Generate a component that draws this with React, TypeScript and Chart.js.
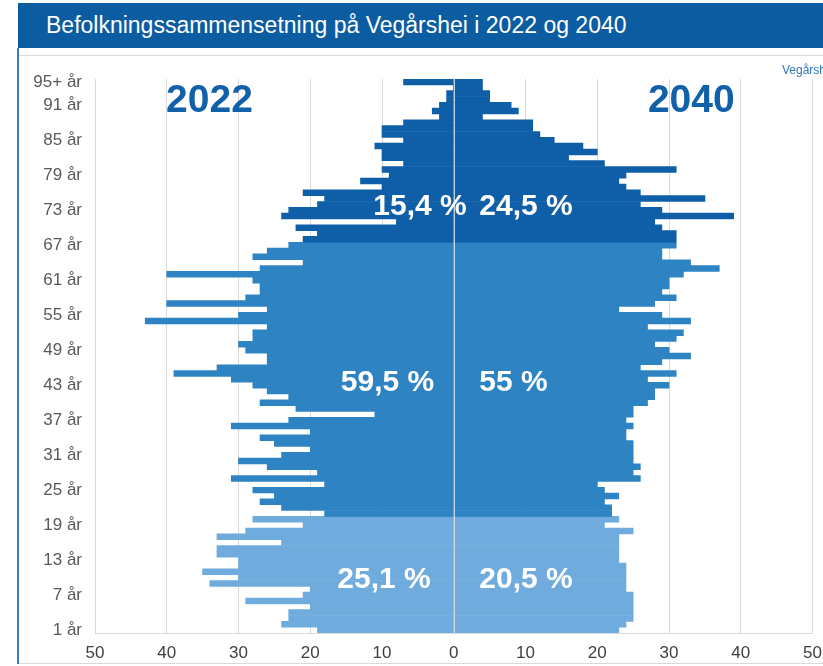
import React, { useEffect, useRef } from "react";
import { Chart, registerables } from "chart.js";

Chart.register(...registerables);

const FONT = "'Liberation Sans', Arial, Helvetica, sans-serif";

// Categories: ages 1 år .. 94 år, 95+ år (bottom to top)
const ageLabels: string[] = [
  ...Array.from({ length: 94 }, (_, i) => `${i + 1} år`),
  "95+ år",
];

// 2022 population per age (age 1 -> 95+)
const pop2022: number[] = [
  19, 24, 23, 23, 20, 29, 21, 20, 34, 30,
  35, 30, 30, 33, 33, 24, 33, 29, 21, 28,
  18, 24, 27, 25, 28, 18, 31, 19, 26, 30,
  24, 20, 25, 27, 20, 31, 23, 11, 22, 27,
  23, 26, 28, 31, 39, 33, 26, 26, 29, 30,
  28, 28, 26, 43, 30, 26, 40, 29, 27, 27,
  28, 40, 27, 21, 28, 26, 23, 21, 19, 22,
  8, 24, 23, 19, 18, 21, 10, 13, 9, 10,
  7, 10, 10, 11, 7, 10, 10, 7, 2, 3,
  2, 1, 1, 0, 7,
];

// 2040 population per age (age 1 -> 95+)
const pop2040: number[] = [
  23, 24, 25, 25, 25, 25, 25, 24, 24, 24,
  24, 24, 23, 23, 23, 23, 23, 25, 21, 23,
  22, 22, 21, 23, 21, 20, 26, 25, 26, 25,
  25, 25, 25, 24, 24, 25, 24, 25, 25, 27,
  28, 28, 30, 27, 31, 26, 29, 33, 30, 28,
  31, 32, 27, 33, 29, 23, 28, 31, 29, 30,
  30, 32, 37, 33, 29, 29, 31, 31, 31, 29,
  28, 39, 29, 26, 35, 26, 24, 23, 24, 31,
  21, 16, 20, 18, 14, 12, 11, 11, 4, 9,
  8, 5, 5, 4, 4,
];

// Age-group boundaries (index in ageLabels) and their colours
const youngUntil = 20; // first 20 rows
const adultUntil = 67; // rows 20..66
const groupColors = { young: "#6FACDD", adult: "#2E83C2", old: "#0F5EA8" };

const xTicks = [-50, -40, -30, -20, -10, 0, 10, 20, 30, 40, 50];

const shareLabels = [
  { text: "15,4 %", x: 420, y: 205 },
  { text: "24,5 %", x: 526, y: 205 },
  { text: "59,5 %", x: 387.5, y: 381 },
  { text: "55 %", x: 513.5, y: 381 },
  { text: "25,1 %", x: 384, y: 578 },
  { text: "20,5 %", x: 526, y: 578 },
];

const colorFor = (i: number) =>
  i < youngUntil ? groupColors.young : i < adultUntil ? groupColors.adult : groupColors.old;

export default function App() {
  const ref = useRef<HTMLCanvasElement>(null);

  useEffect(() => {
    document.body.style.margin = "0";
    const canvas = ref.current;
    if (!canvas) return;

    const zeroLine = {
      id: "zeroLine",
      afterDatasetsDraw(chart: any) {
        const { ctx, chartArea } = chart;
        const x = Math.round(chart.scales.x.getPixelForValue(0)) + 0.5;
        ctx.save();
        ctx.strokeStyle = "rgba(225,228,232,0.85)";
        ctx.lineWidth = 1;
        ctx.beginPath();
        ctx.moveTo(x, chartArea.top);
        ctx.lineTo(x, chartArea.bottom);
        ctx.stroke();
        ctx.restore();
      },
    };

    const colors = ageLabels.map((_, i) => colorFor(i));

    const chart = new Chart(canvas, {
      type: "bar",
      data: {
        labels: ageLabels,
        datasets: [
          {
            label: "2022",
            data: pop2022.map((v) => -v),
            backgroundColor: colors,
            borderWidth: 0,
            barPercentage: 1,
            categoryPercentage: 1,
            stack: "pop",
          },
          {
            label: "2040",
            data: pop2040,
            backgroundColor: colors,
            borderWidth: 0,
            barPercentage: 1,
            categoryPercentage: 1,
            stack: "pop",
          },
        ],
      },
      options: {
        indexAxis: "y",
        responsive: false,
        maintainAspectRatio: false,
        animation: false,
        layout: { padding: { top: 79, right: 2, left: 0, bottom: 0 } },
        plugins: {
          legend: { display: false },
          tooltip: { enabled: false },
          title: { display: false },
        },
        scales: {
          x: {
            type: "linear",
            min: xTicks[0],
            max: xTicks[xTicks.length - 1],
            stacked: true,
            afterBuildTicks: (scale: any) => {
              scale.ticks = xTicks.map((v) => ({ value: v }));
            },
            ticks: {
              callback: (v: any) => String(Math.abs(Number(v))),
              color: "#404040",
              font: { size: 17, family: FONT },
              padding: 10,
              maxRotation: 0,
            },
            grid: { color: "#D9D9D9", drawTicks: false, lineWidth: 1 },
            border: { color: "#D9D9D9", width: 1 },
            afterFit: (scale: any) => {
              scale.height = 33;
            },
          },
          y: {
            type: "category",
            reverse: true,
            stacked: true,
            ticks: {
              autoSkip: false,
              callback: function (this: any, v: any, i: number) {
                return i % 6 === 0 || i === ageLabels.length - 1 ? ageLabels[i] : "";
              },
              color: "#595959",
              font: { size: 17, family: FONT },
              padding: 13,
            },
            grid: { display: false, drawTicks: false },
            border: { display: false },
            afterFit: (scale: any) => {
              scale.width = 95;
            },
          },
        },
      },
      plugins: [zeroLine],
    } as any);

    return () => chart.destroy();
  }, []);

  const abs = (extra: React.CSSProperties): React.CSSProperties => ({
    position: "absolute",
    ...extra,
  });

  return (
    <div
      style={{
        position: "relative",
        width: 823,
        height: 666,
        overflow: "hidden",
        background: "#ffffff",
        fontFamily: FONT,
      }}
    >
      <div style={abs({ left: 18, top: 3, width: 820, height: 45, background: "#0B5CA1" })} />
      <div
        style={abs({
          left: 46,
          top: 14,
          fontSize: 23,
          lineHeight: "23px",
          color: "#ffffff",
          whiteSpace: "nowrap",
        })}
      >
        Befolkningssammensetning på Vegårshei i 2022 og 2040
      </div>
      <div
        style={abs({
          left: 18,
          top: 55,
          width: 830,
          height: 609,
          border: "1px solid #D9D9D9",
          boxSizing: "border-box",
        })}
      />
      <div style={abs({ left: 17, top: 48, width: 2, height: 616, background: "#3A7DC0" })} />
      <canvas
        ref={ref}
        width={832}
        height={666}
        style={abs({ left: 0, top: 0, width: 832, height: 666 })}
      />
      <div
        style={abs({
          left: 782,
          top: 64,
          fontSize: 12,
          lineHeight: "12px",
          color: "#2E75B6",
          whiteSpace: "nowrap",
        })}
      >
        Vegårshei
      </div>
      {[
        { text: "2022", x: 209.5, y: 97.5 },
        { text: "2040", x: 691.3, y: 98 },
      ].map((t) => (
        <div
          key={t.text}
          style={abs({
            left: t.x,
            top: t.y,
            transform: "translate(-50%, -50%)",
            fontSize: 39,
            lineHeight: "39px",
            fontWeight: 700,
            color: "#1160AA",
            whiteSpace: "nowrap",
          })}
        >
          {t.text}
        </div>
      ))}
      {shareLabels.map((t) => (
        <div
          key={t.text}
          style={abs({
            left: t.x,
            top: t.y,
            transform: "translate(-50%, -50%)",
            fontSize: 30,
            lineHeight: "30px",
            fontWeight: 700,
            color: "#ffffff",
            whiteSpace: "nowrap",
          })}
        >
          {t.text}
        </div>
      ))}
    </div>
  );
}
